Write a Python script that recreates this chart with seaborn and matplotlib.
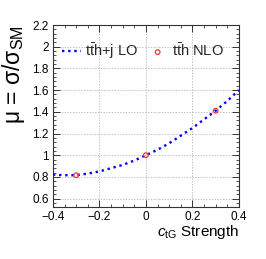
import matplotlib
matplotlib.use("Agg")
import matplotlib.pyplot as plt
from matplotlib.ticker import AutoMinorLocator, FuncFormatter
import seaborn as sns
import pandas as pd

# LO curve
c_lo = [-0.4, -0.35, -0.3, -0.25, -0.2, -0.15, -0.1, -0.05, 0.0,
        0.05, 0.1, 0.15, 0.2, 0.25, 0.3, 0.35, 0.4]
mu_lo = [0.82, 0.815, 0.815, 0.83, 0.85, 0.88, 0.91, 0.95, 1.0,
         1.05, 1.11, 1.18, 1.25, 1.33, 1.41, 1.50, 1.60]

# NLO points
c_nlo = [-0.3, 0.0, 0.3]
mu_nlo = [0.815, 1.0, 1.41]

lo_label = r"$\mathrm{t\bar{t}h}$+j LO"
nlo_label = r"$\mathrm{t\bar{t}h}$ NLO"

sns.set_style("ticks")
plt.rcParams['font.family'] = ['Liberation Sans', 'DejaVu Sans']
plt.rcParams['mathtext.fontset'] = 'custom'
plt.rcParams['mathtext.rm'] = 'Liberation Sans'
plt.rcParams['mathtext.it'] = 'Liberation Sans:italic'

df_lo = pd.DataFrame({'c': c_lo, 'mu': mu_lo})
df_nlo = pd.DataFrame({'c': c_nlo, 'mu': mu_nlo})

fig = plt.figure(figsize=(2.66, 2.59), dpi=100)
ax = fig.add_axes([0.199, 0.2, 0.699, 0.703])

sns.lineplot(data=df_lo, x='c', y='mu', ax=ax, color='#0000ff',
             linestyle=(0, (1, 1.6)), linewidth=1.7, label=lo_label)
sns.scatterplot(data=df_nlo, x='c', y='mu', ax=ax, marker='o', s=11,
                facecolors='none', edgecolor='#ff3030', linewidth=0.9,
                label=nlo_label, zorder=5)

def fmt(v, p):
    return ("%g" % round(v, 2)).replace('-', '\u2212')

ax.set_xlim(-0.4, 0.4)
ax.set_ylim(0.52, 2.2)
ax.set_xticks([-0.4, -0.2, 0, 0.2, 0.4])
ax.set_yticks([0.6, 0.8, 1.0, 1.2, 1.4, 1.6, 1.8, 2.0, 2.2])
ax.xaxis.set_major_formatter(FuncFormatter(fmt))
ax.yaxis.set_major_formatter(FuncFormatter(fmt))
ax.xaxis.set_minor_locator(AutoMinorLocator(4))
ax.yaxis.set_minor_locator(AutoMinorLocator(5))
ax.tick_params(which='both', direction='in', top=True, right=True,
               labelsize=8.5, color='#333333', labelcolor='black', pad=3)
ax.tick_params(which='major', length=5, width=0.7)
ax.tick_params(which='minor', length=2.5, width=0.6)
for s in ax.spines.values():
    s.set_color('#333333')
    s.set_linewidth(0.8)

ax.grid(True, which='major', linestyle=(0, (2, 2)), color='#aaaaaa', linewidth=0.5)
ax.set_axisbelow(True)

ax.set_xlabel(r"$c_{\mathrm{tG}}$ Strength", fontsize=11, loc='right',
              labelpad=0, color='black')
ax.set_ylabel("μ = σ/σ$_{\\mathrm{SM}}$", fontsize=16.5, loc='top',
              labelpad=4, color='black')

ax.legend(loc='upper left', bbox_to_anchor=(0.0, 0.96), ncol=2, frameon=False,
          fontsize=10.5, handlelength=1.3, handletextpad=0.3, columnspacing=0.7,
          borderaxespad=0.2)

fig.savefig("out.png", dpi=100)
